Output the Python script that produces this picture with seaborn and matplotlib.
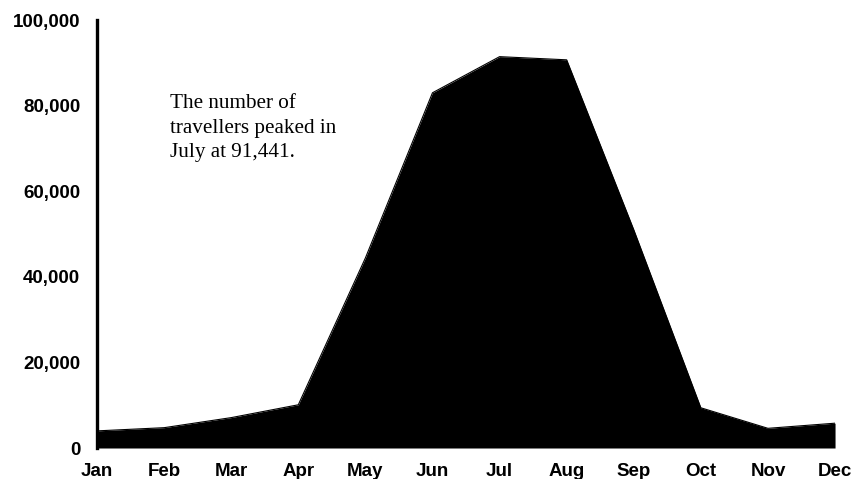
import seaborn as sns
import matplotlib.pyplot as plt
from matplotlib.ticker import FuncFormatter

months = ["Jan", "Feb", "Mar", "Apr", "May", "Jun",
          "Jul", "Aug", "Sep", "Oct", "Nov", "Dec"]
travellers = [4000, 4750, 7100, 10100, 44400, 83000,
              91441, 90700, 51000, 9400, 4600, 5800]
y_ticks = [0, 20000, 40000, 60000, 80000, 100000]
note = "The number of\ntravellers peaked in\nJuly at 91,441."

sns.set_style("white")
plt.rcParams['font.family'] = ['Liberation Sans', 'DejaVu Sans']
plt.rcParams['text.color'] = 'black'
plt.rcParams['xtick.color'] = 'black'
plt.rcParams['ytick.color'] = 'black'

fig = plt.figure(figsize=(8.54, 4.79), dpi=100)
ax = fig.add_axes([0.1136, 0.0647, 0.8642, 0.8935])

x = list(range(len(months)))
sns.lineplot(x=x, y=travellers, color="black", linewidth=0.8, ax=ax)
ax.fill_between(x, travellers, 0, color="black", linewidth=0)

ax.set_xlim(0, len(months) - 1)
ax.set_ylim(0, 100000)
ax.set_xticks(x)
ax.set_xticklabels(months)
ax.set_yticks(y_ticks)
ax.yaxis.set_major_formatter(FuncFormatter(lambda v, p: f"{int(v):,}"))

for lab in ax.get_xticklabels() + ax.get_yticklabels():
    lab.set_fontweight("bold")
    lab.set_fontsize(13.5)
    lab.set_color("black")
ax.tick_params(axis="both", length=0)
ax.tick_params(axis="y", pad=12)
ax.tick_params(axis="x", pad=10.5)

for side in ["top", "right", "bottom"]:
    ax.spines[side].set_visible(False)
ax.spines["left"].set_linewidth(2.4)
ax.spines["left"].set_color("black")

ax.text(1.09, 82700, note, family=["Liberation Serif", "DejaVu Serif"],
        fontsize=15.2, va="top", ha="left", linespacing=1.4, color="black")

fig.savefig("out.png", dpi=100)
plt.close()
